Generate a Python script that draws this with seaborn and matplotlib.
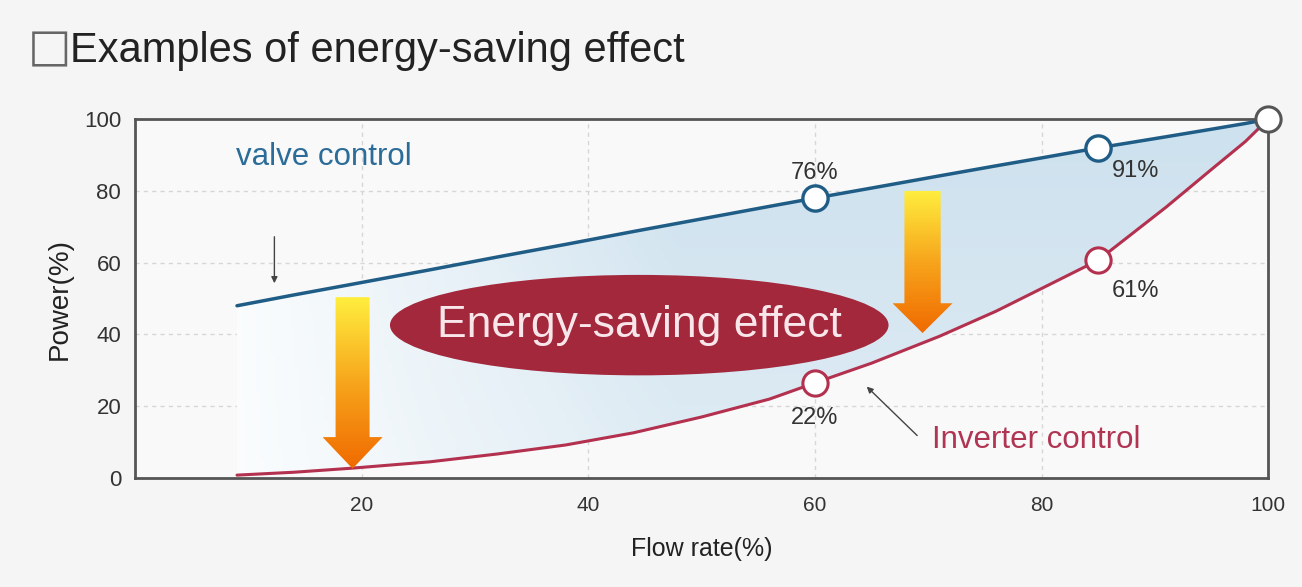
import matplotlib.pyplot as plt
import numpy as np
import pandas as pd
import seaborn as sns
from matplotlib.colors import LinearSegmentedColormap
from matplotlib.patches import Ellipse, Polygon

# values
flow = [9, 14, 19, 26, 32, 38, 44, 50, 56, 60, 65, 71, 76, 80, 85, 91, 95, 98, 100]
valve_power = [48, 51, 53.9, 58, 61.6, 65.1, 68.7, 72.2, 75.7, 78, 80.8, 84.2, 87, 89.2, 92,
               95.1, 97.2, 98.8, 100]
inverter_power = [0.8, 1.6, 2.7, 4.5, 6.7, 9.2, 12.6, 17, 22, 26.5, 32, 39.5, 46.5, 52.8,
                  60.7, 75.5, 86, 93.8, 100]
marked_flow = [60, 85]
valve_labels = ["76%", "91%"]
inverter_labels = ["22%", "61%"]

df = pd.DataFrame({"flow": flow, "valve": valve_power, "inverter": inverter_power})
marks = df[df["flow"].isin(marked_flow)]
end = df[df["flow"] == 100]

BLUE = "#1f5d86"
RED = "#b3304f"

sns.set_theme(style="white")
plt.rcParams["font.family"] = ["Liberation Sans", "DejaVu Sans"]

fig = plt.figure(figsize=(13.02, 5.87), dpi=100, facecolor="#f5f5f5")
ax = fig.add_axes([0.1037, 0.1857, 0.8703, 0.6113])
ax.set_facecolor("#f9f9f9")
ax.set_xlim(0, 100)
ax.set_ylim(0, 100)

# dashed grid
for v in [20, 40, 60, 80]:
    ax.axvline(v, color="#d6d6d6", ls=(0, (3, 3)), lw=1, zorder=0)
    ax.axhline(v, color="#d6d6d6", ls=(0, (3, 3)), lw=1, zorder=0)

# gradient fill between the two curves
band = ax.fill_between(df["flow"], df["inverter"], df["valve"], color="none", lw=0)
path = band.get_paths()[0]
clip = Polygon(path.vertices, closed=True, transform=ax.transData, facecolor="none", edgecolor="none")
ax.add_patch(clip)
gx = np.linspace(0, 1, 300)
gy = np.linspace(0, 1, 100)
GX, GY = np.meshgrid(gx, gy)
grad = np.clip((GX - 0.08) / 0.4, 0, 1) * (0.6 + 0.4 * GY)
fill_cmap = LinearSegmentedColormap.from_list("fill", ["#fbfdfe", "#cde1ee"])
im = ax.imshow(grad, extent=[0, 100, 0, 100], origin="lower", cmap=fill_cmap,
               aspect="auto", zorder=1, vmin=0, vmax=1)
im.set_clip_path(clip)

sns.lineplot(data=df, x="flow", y="valve", color=BLUE, lw=2.5, ax=ax, zorder=3)
sns.lineplot(data=df, x="flow", y="inverter", color=RED, lw=2.2, ax=ax, zorder=3)

sns.scatterplot(data=marks, x="flow", y="valve", s=330, marker="o", facecolor="white",
                edgecolor=BLUE, linewidth=2.4, ax=ax, zorder=5)
sns.scatterplot(data=marks, x="flow", y="inverter", s=330, marker="o", facecolor="white",
                edgecolor=RED, linewidth=2.2, ax=ax, zorder=5)
sns.scatterplot(data=end, x="flow", y="valve", s=330, marker="o", facecolor="white",
                edgecolor="#555555", linewidth=2.2, ax=ax, zorder=6, clip_on=False)

# value labels
for (_, r), lab in zip(marks.iterrows(), valve_labels):
    if r["flow"] < 80:
        ax.text(r["flow"], r["valve"] + 7, lab, ha="center", va="center", fontsize=17, color="#333333")
    else:
        ax.text(r["flow"] + 3.3, r["valve"] - 6.5, lab, ha="center", va="center", fontsize=17, color="#333333")
for (_, r), lab in zip(marks.iterrows(), inverter_labels):
    if r["flow"] < 80:
        ax.text(r["flow"], r["inverter"] - 9.7, lab, ha="center", va="center", fontsize=17, color="#333333")
    else:
        ax.text(r["flow"] + 3.3, r["inverter"] - 8.5, lab, ha="center", va="center", fontsize=17, color="#333333")


# gradient arrows
def grad_arrow(xc, ytop, ytip, yhead, shaft_w, head_w):
    verts = [(xc - shaft_w / 2, ytop), (xc + shaft_w / 2, ytop), (xc + shaft_w / 2, yhead),
             (xc + head_w / 2, yhead), (xc, ytip), (xc - head_w / 2, yhead),
             (xc - shaft_w / 2, yhead)]
    poly = Polygon(verts, closed=True, facecolor="none", edgecolor="none", transform=ax.transData)
    ax.add_patch(poly)
    cm = LinearSegmentedColormap.from_list("arr", ["#f06a00", "#f7a51c", "#ffee3e"])
    g = np.linspace(0, 1, 200).reshape(-1, 1)
    a = ax.imshow(g, extent=[xc - head_w / 2, xc + head_w / 2, ytip, ytop], origin="lower",
                  cmap=cm, aspect="auto", zorder=4)
    a.set_clip_path(poly)


grad_arrow(19.2, 50.4, 2.6, 11.4, 3.0, 5.3)
grad_arrow(69.5, 80.0, 40.4, 48.7, 3.2, 5.3)

# ellipse with label
ax.add_patch(Ellipse((44.5, 42.6), 44, 28, facecolor="#a3283c", edgecolor="none", zorder=4))
ax.text(44.5, 42.6, "Energy-saving effect", ha="center", va="center", fontsize=32,
        color="#f9e6ea", zorder=5)

# curve labels and pointers
ax.text(8.9, 89.5, "valve control", ha="left", va="center", fontsize=22.5, color="#2b6c99")
ax.annotate("", xy=(12.3, 53.5), xytext=(12.3, 68),
            arrowprops=dict(arrowstyle="-|>", color="#444444", lw=1, mutation_scale=9))
ax.text(70.3, 10.6, "Inverter control", ha="left", va="center", fontsize=22.5, color="#b03553")
ax.annotate("", xy=(64.4, 26.0), xytext=(69.2, 11.3),
            arrowprops=dict(arrowstyle="-|>", color="#444444", lw=1, mutation_scale=9))

ax.set_xticks([20, 40, 60, 80, 100])
ax.set_yticks([0, 20, 40, 60, 80, 100])
ax.tick_params(axis="both", length=0, labelcolor="#333333")
ax.tick_params(axis="x", pad=13, labelsize=15)
ax.tick_params(axis="y", pad=10, labelsize=16)
ax.set_xlabel("Flow rate(%)", fontsize=18, color="#222222", labelpad=16)
ax.set_ylabel("Power(%)", fontsize=20, color="#222222", labelpad=8)
for s in ax.spines.values():
    s.set_color("#555555")
    s.set_linewidth(2)
    s.set_visible(True)

# title: box glyph + text
fig.text(28 / 1302, 1 - 49 / 587, "□", fontsize=33, color="#666666", ha="left", va="center",
         family="DejaVu Sans")
fig.text(70 / 1302, 1 - 51 / 587, "Examples of energy-saving effect", fontsize=30,
         color="#222222", ha="left", va="center")

fig.savefig("out.png", dpi=100, facecolor=fig.get_facecolor())
